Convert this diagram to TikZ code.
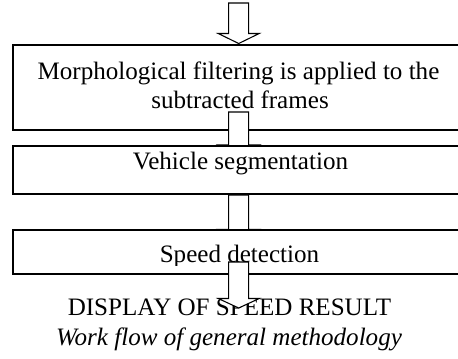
\documentclass[tikz,border=0pt]{standalone}
\usepackage{fontspec}
\setmainfont{Liberation Serif}
\tikzset{
  stagebox/.style={draw=black, fill=white, line width=0.95pt},
  blockarr/.style={draw=black, fill=white, line width=0.8pt, line join=miter},
  lbl/.style={inner sep=0pt, anchor=base, font=\fontsize{18.8}{22}\selectfont},
  captext/.style={inner sep=0pt, anchor=base, font=\fontsize{18.8}{22}\selectfont},
  capital/.style={inner sep=0pt, anchor=base, font=\fontsize{18.8}{22}\selectfont\itshape}
}
% block arrow: centre x, top y, head-base y, tip y
\newcommand\blockarrow[4]{%
  \filldraw[blockarr] ({#1-10},#2) -- ({#1+10},#2) -- ({#1+10},#3) -- ({#1+20.5},#3)
    -- (#1,#4) -- ({#1-20.5},#3) -- ({#1-10},#3) -- cycle;}
\begin{document}
\begin{tikzpicture}[x=0.75pt,y=-0.75pt]
\useasboundingbox (0,0) rectangle (458,358);
\clip (0,0) rectangle (458,358);
\fill[white] (0,0) rectangle (458,358);
% first stage
\draw[stagebox] (13,45) rectangle (470,130);
\node[lbl] (m1) at (238.5,79) {Morphological filtering is applied to the};
\node[lbl] (m2) at (240,108) {subtracted frames};
\blockarrow{238.7}{3}{33.5}{43.5}
\blockarrow{238.7}{112}{145}{155}
% second stage
\draw[stagebox] (13,146) rectangle (470,194);
\node[lbl] (vs) at (240.5,169) {Vehicle segmentation};
\blockarrow{238.7}{195}{229.5}{240}
% third stage
\draw[stagebox] (13,230) rectangle (470,274);
\begin{scope}
  \clip (13,230) rectangle (470,265);
  \node[lbl] (sd) at (239.5,262) {Speed detection};
\end{scope}
% result and caption
\node[captext] (res) at (229.5,315) {DISPLAY OF SPEED RESULT};
\node[capital] (cpt) at (229,345) {Work flow of general methodology};
\blockarrow{238.7}{262}{298.5}{308}
\end{tikzpicture}
\end{document}
